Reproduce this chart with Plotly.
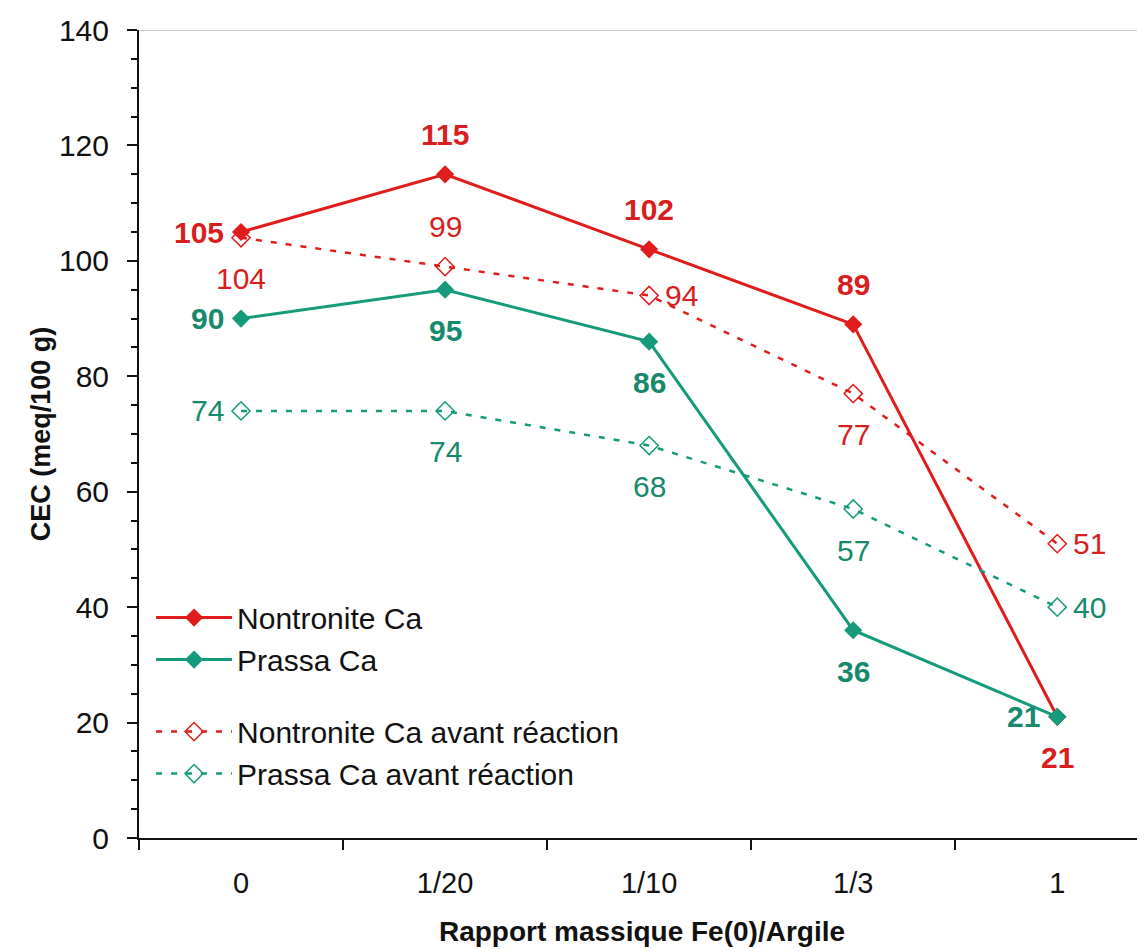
import plotly.graph_objects as go

# data
ratios = ["0", "1/20", "1/10", "1/3", "1"]
nontronite = [105, 115, 102, 89, 21]
prassa = [90, 95, 86, 36, 21]
nontronite_avant = [104, 99, 94, 77, 51]
prassa_avant = [74, 74, 68, 57, 40]

# where each value label sits relative to its point
pos_nontronite = ["left", "above", "above", "above", "below"]
pos_prassa = ["left", "below", "below", "below", "left"]
pos_nontronite_avant = ["below", "above", "right", "below", "right"]
pos_prassa_avant = ["left", "below", "below", "below", "right"]

RED = "#e01c1c"
TEAL = "#159a7c"
RED_TXT = "#d91e1e"
TEAL_TXT = "#17896c"
FONT = "Liberation Sans, Arial, sans-serif"

fig = go.Figure()

fig.add_trace(go.Scatter(x=ratios, y=nontronite, name="Nontronite Ca", legendgroup="a",
                         mode="lines+markers",
                         line=dict(color=RED, width=3),
                         marker=dict(symbol="diamond", size=14, color=RED)))
fig.add_trace(go.Scatter(x=ratios, y=prassa, name="Prassa Ca", legendgroup="a",
                         mode="lines+markers",
                         line=dict(color=TEAL, width=3),
                         marker=dict(symbol="diamond", size=14, color=TEAL)))
fig.add_trace(go.Scatter(x=ratios, y=nontronite_avant, name="Nontronite Ca avant réaction",
                         legendgroup="b", mode="lines+markers",
                         line=dict(color=RED, width=2.5, dash="6px,9px"),
                         marker=dict(symbol="diamond-open", size=14, color=RED,
                                     line=dict(width=1.5))))
fig.add_trace(go.Scatter(x=ratios, y=prassa_avant, name="Prassa Ca avant réaction",
                         legendgroup="b", mode="lines+markers",
                         line=dict(color=TEAL, width=2.5, dash="6px,9px"),
                         marker=dict(symbol="diamond-open", size=14, color=TEAL,
                                     line=dict(width=1.5))))


def add_labels(values, places, color, bold):
    # x given as category index so "1" is not read as index 1
    for i, (v, p) in enumerate(zip(values, places)):
        txt = "<b>%d</b>" % v if bold else "%d" % v
        a = dict(x=i, y=v, text=txt, showarrow=False,
                 font=dict(family=FONT, size=30, color=color))
        if p == "left":
            a.update(xanchor="right", xshift=-15)
        elif p == "right":
            a.update(xanchor="left", xshift=14)
        elif p == "above":
            a.update(yshift=40)
        else:
            a.update(yshift=-41)
        fig.add_annotation(**a)


add_labels(nontronite, pos_nontronite, RED_TXT, True)
add_labels(prassa, pos_prassa, TEAL_TXT, True)
add_labels(nontronite_avant, pos_nontronite_avant, RED_TXT, False)
add_labels(prassa_avant, pos_prassa_avant, TEAL_TXT, False)

# thin grey border at the top of the plot area
fig.add_shape(type="line", xref="paper", yref="y", x0=0, x1=1, y0=140, y1=140,
              line=dict(color="#9a9a9a", width=1))

fig.update_layout(
    width=1137, height=944,
    margin=dict(l=131, r=0, t=22, b=114),
    plot_bgcolor="white", paper_bgcolor="white",
    font=dict(family=FONT, size=28, color="#111111"),
    showlegend=True,
    legend=dict(x=0.012, y=0.305, xanchor="left", yanchor="top",
                traceorder="grouped", tracegroupgap=30,
                itemwidth=76, bgcolor="rgba(0,0,0,0)",
                font=dict(family=FONT, size=30, color="#111111")),
    xaxis=dict(type="category", range=[-0.5, 4.43],
               tickson="boundaries", ticks="outside", ticklen=10, tickwidth=1.5,
               tickcolor="#111111", showline=True, linecolor="#111111", linewidth=2,
               showgrid=False, ticklabelstandoff=18,
               tickfont=dict(size=29),
               title=dict(text="<b>Rapport massique Fe(0)/Argile</b>", standoff=24,
                          font=dict(size=28))),
    yaxis=dict(range=[0, 140], dtick=20, ticks="outside", ticklen=10, tickwidth=1.5,
               tickcolor="#111111", showline=True, linecolor="#111111", linewidth=2,
               showgrid=False, zeroline=False, tickfont=dict(size=30),
               ticklabelstandoff=12,
               minor=dict(dtick=5, ticks="outside", ticklen=6, tickcolor="#111111"),
               title=dict(text="<b>CEC (meq/100 g)</b>", standoff=0,
                          font=dict(size=27))),
)

fig.write_html("out.html")
